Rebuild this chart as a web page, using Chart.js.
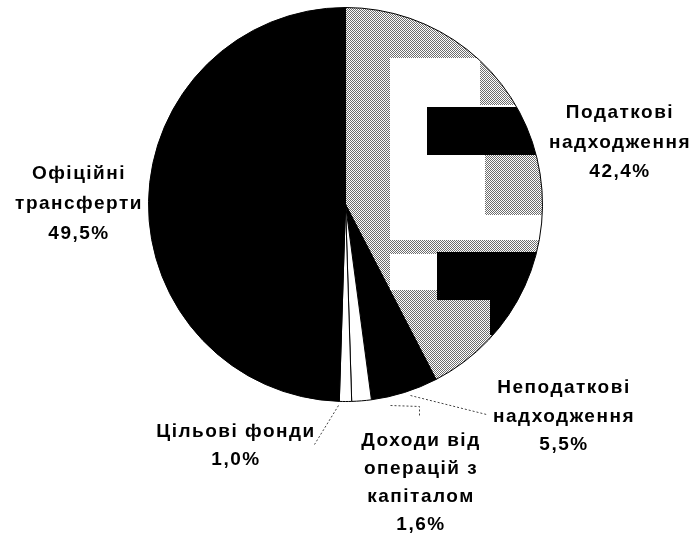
<!DOCTYPE html>
<html>
<head>
<meta charset="utf-8">
<script src="https://cdn.jsdelivr.net/npm/chart.js@4.4.0/dist/chart.umd.min.js"></script>
<style>
  html, body { margin: 0; padding: 0; background: #fff; }
  #c { display: block; }
</style>
</head>
<body>
<canvas id="c" width="695" height="539"></canvas>
<script>
// ---- data ----
const categories = [
  ["Податкові", "надходження"],
  ["Неподаткові", "надходження"],
  ["Доходи від", "операцій з", "капіталом"],
  ["Цільові фонди"],
  ["Офіційні", "трансферти"]
];
const shares = [42.4, 5.5, 1.6, 1.0, 49.5];
const percentLabels = ["42,4%", "5,5%", "1,6%", "1,0%", "49,5%"];

// ---- styles ----
const canvas = document.getElementById('c');
const ctx0 = canvas.getContext('2d');

function ditherPattern(ctx, dark) {
  const p = document.createElement('canvas');
  p.width = 2; p.height = 2;
  const g = p.getContext('2d');
  g.fillStyle = '#fff'; g.fillRect(0, 0, 2, 2);
  g.fillStyle = dark; g.fillRect(0, 0, 1, 1); g.fillRect(1, 1, 1, 1);
  return ctx.createPattern(p, 'repeat');
}

function textureFill() {
  const t = document.createElement('canvas');
  t.width = 695; t.height = 539;
  const g = t.getContext('2d');
  g.fillStyle = '#fff';
  g.fillRect(0, 0, 695, 539);
  const gray = ditherPattern(g, '#6e6e6e');
  g.fillStyle = gray;
  g.fillRect(345, 0, 45, 400);
  g.fillRect(345, 0, 140, 58);
  g.fillRect(480, 60, 70, 45);
  g.fillRect(485, 155, 65, 60);
  g.fillRect(380, 240, 170, 14);
  g.fillRect(390, 290, 110, 90);
  g.fillStyle = '#000';
  g.fillRect(427, 107, 130, 48);
  g.fillRect(437, 252, 120, 48);
  g.fillRect(490, 300, 70, 35);
  return ctx0.createPattern(t, 'no-repeat');
}

const sliceColors = [textureFill(), '#000000', '#ffffff', '#ffffff', '#000000'];

// label anchors: centre x, first baseline y, line height (px)
const labelLayout = [
  { x: 620, y: 118, lh: 29.5 },
  { x: 564, y: 393, lh: 28.5 },
  { x: 421, y: 446, lh: 28 },
  { x: 236, y: 437, lh: 28 },
  { x: 79,  y: 179, lh: 30 }
];
const leaderLines = [
  null,
  [[410, 395], [486, 414]],
  [[390, 405], [419, 406], [419, 416]],
  [[338, 405], [314, 444]],
  null
];

const labelPlugin = {
  id: 'outLabels',
  afterDraw(chart) {
    const ctx = chart.ctx;
    ctx.save();
    ctx.strokeStyle = '#444';
    ctx.lineWidth = 1;
    ctx.setLineDash([2, 2]);
    leaderLines.forEach(pts => {
      if (!pts) return;
      ctx.beginPath();
      ctx.moveTo(pts[0][0] + 0.5, pts[0][1] + 0.5);
      for (let i = 1; i < pts.length; i++) ctx.lineTo(pts[i][0] + 0.5, pts[i][1] + 0.5);
      ctx.stroke();
    });
    ctx.setLineDash([]);
    ctx.fillStyle = '#000';
    ctx.font = 'bold 19px "Liberation Sans", Arial, sans-serif';
    ctx.letterSpacing = '1.5px';
    ctx.textAlign = 'center';
    ctx.textBaseline = 'alphabetic';
    categories.forEach((lines, i) => {
      const L = labelLayout[i];
      const all = lines.concat([percentLabels[i]]);
      all.forEach((s, k) => ctx.fillText(s, L.x, L.y + k * L.lh));
    });
    ctx.restore();
  }
};

new Chart(canvas, {
  type: 'pie',
  data: {
    labels: categories.map(c => c.join(' ')),
    datasets: [{
      data: shares,
      backgroundColor: sliceColors,
      borderColor: '#000',
      borderWidth: 1
    }]
  },
  options: {
    responsive: false,
    devicePixelRatio: 1,
    animation: false,
    radius: 197,
    layout: { padding: { left: 148, right: 152, top: 7, bottom: 137 } },
    plugins: { legend: { display: false }, tooltip: { enabled: false } }
  },
  plugins: [labelPlugin]
});
</script>
</body>
</html>
